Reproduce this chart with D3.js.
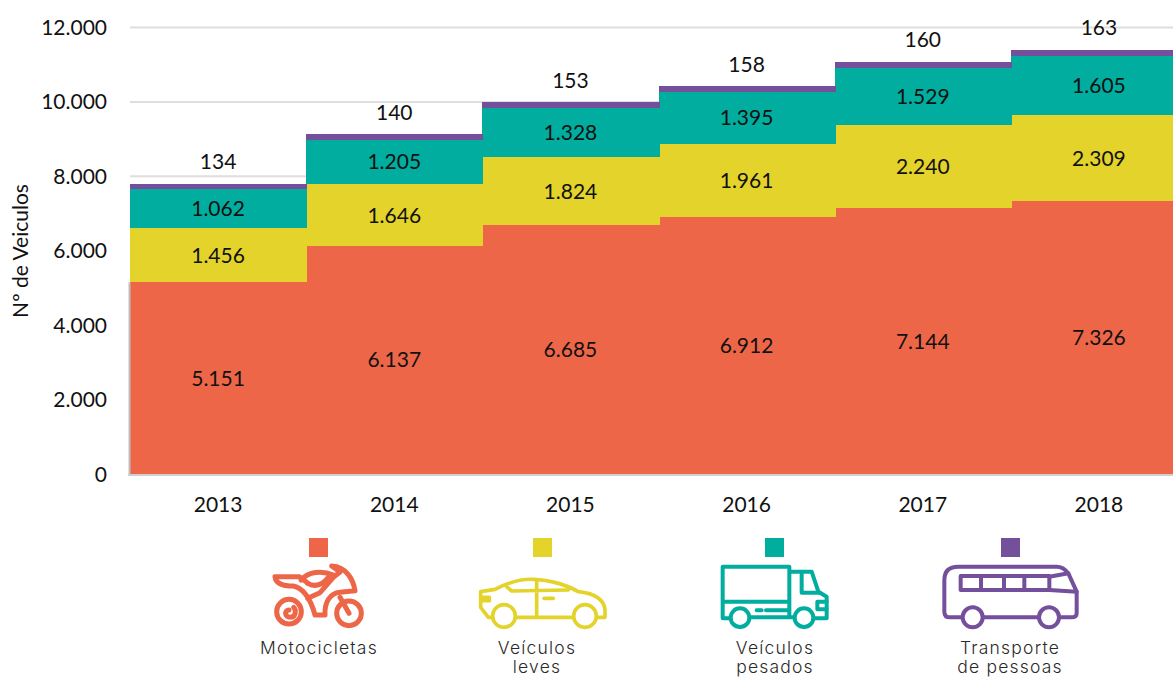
<!DOCTYPE html>
<html><head><meta charset="utf-8">
<script src="https://cdn.jsdelivr.net/npm/d3@7"></script>
<style>html,body{margin:0;padding:0;background:#fff;overflow:hidden}svg{display:block}</style>
</head><body><svg id="c" width="1173" height="677"></svg>
<script>
const years=["2013","2014","2015","2016","2017","2018"];
const motocicletas=[5151,6137,6685,6912,7144,7326];
const leves=[1456,1646,1824,1961,2240,2309];
const pesados=[1062,1205,1328,1395,1529,1605];
const transporte=[134,140,153,158,160,163];
const yTicks=[0,2000,4000,6000,8000,10000,12000];
const seriesKeys=["moto","leves","pesados","transp"];
const seriesColors=["#EE6648","#E3D32B","#00AD9F","#744F9C"];
const fmt=v=>String(v).replace(/\B(?=(\d{3})(?!\d))/g,".");
const rows=years.map((y,i)=>({year:y,moto:motocicletas[i],leves:leves[i],pesados:pesados[i],transp:transporte[i]}));
const svg=d3.select("#c");
const font="Lato, Carlito, sans-serif", fs=21;
const x=d3.scaleBand().domain(years).range([130,1187]);
const y=d3.scaleLinear().domain([0,12000]).range([474,27.5]);

svg.append("g").selectAll("line").data(yTicks.filter(t=>t>0)).join("line")
 .attr("x1",130).attr("x2",1173).attr("y1",d=>y(d)).attr("y2",d=>y(d))
 .attr("stroke","#DEDEDE").attr("stroke-width",2);

const stacked=d3.stack().keys(seriesKeys)(rows);
svg.append("g").attr("shape-rendering","crispEdges").selectAll("g").data(stacked).join("g").attr("fill",(d,i)=>seriesColors[i])
 .selectAll("rect").data(d=>d).join("rect")
 .attr("x",d=>x(d.data.year)).attr("width",x.bandwidth()+1)
 .attr("y",d=>y(d[1])).attr("height",d=>y(d[0])-y(d[1]));

// axis lines
svg.append("line").attr("x1",129.5).attr("x2",129.5).attr("y1",y(motocicletas[0])).attr("y2",476).attr("stroke","#BFBFBF").attr("stroke-width",2);
svg.append("line").attr("x1",128).attr("x2",1173).attr("y1",475).attr("y2",475).attr("stroke","#D0D0D0").attr("stroke-width",2);

const text=sel=>sel.attr("font-family",font).attr("font-size",fs).attr("fill","#111").attr("text-anchor","middle").attr("dominant-baseline","central");
// data labels
stacked.forEach((s,si)=>{
 text(svg.append("g").selectAll("text").data(s).join("text"))
  .attr("x",d=>x(d.data.year)+x.bandwidth()/2)
  .attr("y",d=>si===3?y(d[1])-23:(y(d[0])+y(d[1]))/2-1)
  .text(d=>fmt(d[1]-d[0]));
});
// y ticks
text(svg.append("g").selectAll("text").data(yTicks).join("text"))
 .attr("x",107).attr("y",d=>y(d)-1).attr("text-anchor","end").text(d=>fmt(d));
// x ticks
text(svg.append("g").selectAll("text").data(years).join("text"))
 .attr("x",d=>x(d)+x.bandwidth()/2).attr("y",503).text(d=>d);
// y title
text(svg.append("text")).attr("transform","translate(19,251) rotate(-90)").attr("font-size",21).text("Nº de Veiculos");

// legend
const legendLabels=[["Motocicletas"],["Veículos","leves"],["Veículos","pesados"],["Transporte","de pessoas"]];
const legendSquareX=[309,533,765,1001];
const legendTextX=[319,537,775,1010];
const icons=[
 {ox:265,oy:560,sw:15,circles:[[72,155,37],[252,160,37]],paths:[
  "M30 50 L103 50 L127 68 M30 50 C32 72 60 78 85 78 C115 85 135 110 150 165 H180 C178 125 195 100 225 97 L270 92 C265 60 245 20 200 18 L225 36 L205 52 L165 98 L128 115",
  "M108 60 C130 35 170 30 205 45",
  "M128 70 C150 82 172 76 190 52"
 ],top:["M72 150 C58 150 58 172 76 172 C92 172 95 150 86 142","M225 112 L252 160"]},
 {ox:240,oy:530,sw:11,circles:[[792,258,34],[1035,258,34]],paths:[
  "M758 262 L745 262 L722 232 L722 185 L765 178 C800 160 840 146 880 148 C940 150 990 170 1015 185 C1060 190 1092 205 1095 240 L1095 262 L1069 262 M1001 262 L826 262",
  "M800 170 L815 183 L985 180 M890 150 L890 262",
  "M722 202 L748 202 L748 212 L725 212",
  "M912 205 H940"
 ],top:[]},
 {ox:680,oy:530,sw:12,circles:[[180,263,28],[372,263,28]],paths:[
  "M128 110 H328 V262 M128 215 H328 M128 110 V265 H152 M208 262 H344 M400 265 H440 V200 L415 185 L395 125 H330",
  "M365 132 V188 H420",
  "M440 215 H412 V238 H440",
  "M230 241 H245 M258 241 H325"
 ],top:[]},
 {ox:680,oy:530,sw:12,circles:[[878,262,30],[1107,262,30]],paths:[
  "M848 262 H810 Q793 262 793 245 V150 Q793 110 835 110 H1130 Q1150 110 1165 130 L1190 185 V250 Q1190 262 1175 262 H1137 M1077 262 H908",
  "M1108 138 H842 V180 H1108 Z M903 138 V180 M972 138 V180 M1033 138 V180",
  "M1108 140 L1165 130 M1108 180 L1190 185"
 ],top:[]}
];
const lg=svg.append("g").selectAll("g").data(legendLabels).join("g");
lg.append("rect").attr("x",(d,i)=>legendSquareX[i]).attr("y",538).attr("width",19).attr("height",19).attr("fill",(d,i)=>seriesColors[i]);
lg.each(function(lines,i){
 const g=d3.select(this);
 lines.forEach((t,j)=>g.append("text").attr("x",legendTextX[i]).attr("y",654+j*18.7)
  .attr("text-anchor","middle").attr("font-family","Inter, sans-serif").attr("font-weight",300)
  .attr("font-size",17.5).attr("letter-spacing",1.2).attr("fill","#2a2a2a").text(t));
 const ic=icons[i];
 const k=g.append("g").attr("transform",`translate(${ic.ox},${ic.oy}) scale(${1/3})`)
  .attr("fill","none").attr("stroke",seriesColors[i]).attr("stroke-width",ic.sw).attr("stroke-linejoin","round").attr("stroke-linecap","round");
 ic.paths.forEach(p=>k.append("path").attr("d",p));
 ic.circles.forEach(c=>k.append("circle").attr("cx",c[0]).attr("cy",c[1]).attr("r",c[2]).attr("fill","#fff"));
 ic.top.forEach(p=>k.append("path").attr("d",p));
});
</script></body></html>
